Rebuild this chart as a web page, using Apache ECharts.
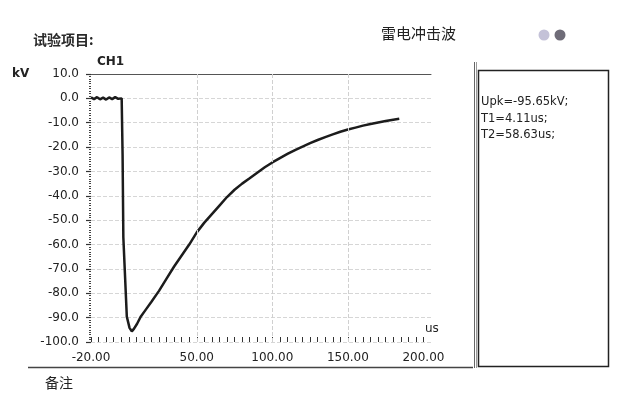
<!DOCTYPE html>
<html><head><meta charset="utf-8">
<script src="https://cdn.jsdelivr.net/npm/echarts@6/dist/echarts.min.js"></script>
<style>html,body{margin:0;padding:0;background:#fff}#c{width:626px;height:408px}</style>
</head><body><div id="c"></div>
<script>
const timeUs = [-20,-18,-16,-14,-12,-10,-8,-6,-4,-2,-1,0.3,0.9,1.4,3.7,5.5,7,8.5,10.5,13,16.5,20,
  25,30,35,40,45,50,55,60,65,70,75,80,85,90,95,100,105,110,115,120,125,130,135,140,145,150,155,160,165,170,175,180,184];
const voltageKv = [0.4,-0.3,0.5,-0.4,0.3,-0.5,0.4,-0.3,0.5,-0.2,0.3,0,-23,-57,-89.6,-94.2,-95.65,-94.5,-92.5,-89.5,-86.5,-83.5,
  -79,-74,-69,-64.5,-60,-55,-51,-47.5,-44,-40.5,-37.5,-35,-32.8,-30.5,-28.3,-26.3,-24.5,-22.8,-21.2,-19.8,-18.4,-17.1,-15.9,-14.8,-13.7,-12.8,-12,-11.2,-10.5,-9.9,-9.3,-8.8,-8.4];
const xLabelValues = [-20,50,100,150,200];
const xGridValues = [50,100,150];
const resultLines = ['Upk=-95.65kV;','T1=4.11us;','T2=58.63us;'];
const titleText = '试验项目:';
const waveName = '雷电冲击波';
const noteText = '备注';

const chart = echarts.init(document.getElementById('c'), null, {renderer:'canvas'});
const numFont = 'DejaVu Sans';
const cjk = '"Noto Sans CJK SC"';
chart.setOption({
  animation:false,
  backgroundColor:'#ffffff',
  grid:{left:91,top:74,width:340,height:268},
  xAxis:[{
    type:'value',min:-20,max:205,interval:5,
    axisLine:{show:false,onZero:false},
    axisTick:{show:true,inside:true,length:5,lineStyle:{color:'#333',width:1}},
    axisLabel:{margin:10,color:'#222',fontFamily:numFont,fontSize:12,showMaxLabel:false,
      formatter:v=>xLabelValues.includes(v)?v.toFixed(2):''},
    splitLine:{show:false}
  },{
    type:'value',position:'top',min:-20,max:205,
    axisLine:{show:true,onZero:false,lineStyle:{color:'#555',width:1}},
    axisTick:{show:false},axisLabel:{show:false},splitLine:{show:false}
  }],
  yAxis:{
    type:'value',min:-100,max:10,interval:10,
    axisLine:{show:false,onZero:false},
    axisTick:{show:true,length:5,lineStyle:{color:'#333',width:1.2}},
    minorTick:{show:true,splitNumber:10,length:2,lineStyle:{color:'#444',width:1}},
    axisLabel:{margin:12,color:'#222',fontFamily:numFont,fontSize:12,formatter:v=>v.toFixed(1)},
    splitLine:{show:true,lineStyle:{color:'#d6d6d6',type:'dashed',width:1}}
  },
  series:[{
    type:'line',xAxisIndex:0,
    data:timeUs.map((t,i)=>[t,voltageKv[i]]),
    showSymbol:false,smooth:false,
    lineStyle:{color:'#1c1c1c',width:2.5},
    markLine:{silent:true,symbol:'none',label:{show:false},
      lineStyle:{color:'#d0d0d0',type:'dashed',width:1},
      data:xGridValues.map(v=>({xAxis:v}))}
  }],
  graphic:[
    {type:'text',left:33,top:33,style:{text:titleText,font:'bold 14px '+cjk,fill:'#2a2a2a'}},
    {type:'text',left:381,top:26,style:{text:waveName,font:'15px '+cjk,fill:'#222'}},
    {type:'circle',shape:{cx:544,cy:35,r:5.5},style:{fill:'#c4c2d8'}},
    {type:'circle',shape:{cx:560,cy:35,r:5.5},style:{fill:'#6f6c78'}},
    {type:'text',left:12,top:68,style:{text:'kV',font:'bold 12px '+numFont,fill:'#222'}},
    {type:'text',left:97,top:56,style:{text:'CH1',font:'bold 12px '+numFont,fill:'#222'}},
    {type:'text',left:425,top:323,style:{text:'us',font:'12px '+numFont,fill:'#222'}},
    {type:'line',shape:{x1:28,y1:367.5,x2:473,y2:367.5},style:{stroke:'#444',lineWidth:1.5}},
    {type:'line',shape:{x1:474.5,y1:62,x2:474.5,y2:368},style:{stroke:'#666',lineWidth:1}},
    {type:'line',shape:{x1:476.5,y1:62,x2:476.5,y2:368},style:{stroke:'#999',lineWidth:1}},
    {type:'rect',shape:{x:478.5,y:70.5,width:130,height:296},style:{fill:'none',stroke:'#222',lineWidth:1.5}},
    {type:'text',left:481,top:94,style:{text:resultLines.join('\n'),font:'11.5px '+numFont,lineHeight:16.5,fill:'#222'}},
    {type:'text',left:45,top:376,style:{text:noteText,font:'14px '+cjk,fill:'#222'}}
  ]
});
</script></body></html>
